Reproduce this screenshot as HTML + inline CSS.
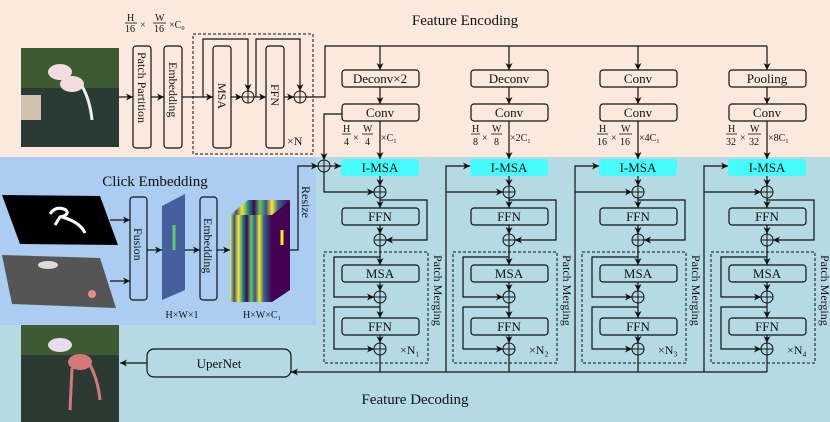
<!DOCTYPE html>
<html><head><meta charset="utf-8"><style>
html,body{margin:0;padding:0;background:#fff}
svg{display:block}
text{font-family:"Liberation Serif",serif;fill:#111}
</style></head><body>
<svg width="830" height="422" viewBox="0 0 830 422" xmlns="http://www.w3.org/2000/svg">
<defs>
<marker id="a" markerWidth="8" markerHeight="8" refX="7" refY="4" orient="auto" markerUnits="userSpaceOnUse">
<path d="M0,0.5 L7,4 L0,7.5 L2,4 Z" fill="#111"/></marker>
<linearGradient id="stk" x1="0" x2="1">
<stop offset="0" stop-color="#dff05a"/><stop offset="0.1" stop-color="#3b528b"/><stop offset="0.2" stop-color="#fde725"/><stop offset="0.3" stop-color="#21918c"/><stop offset="0.4" stop-color="#440154"/><stop offset="0.5" stop-color="#5ec962"/><stop offset="0.6" stop-color="#3b528b"/><stop offset="0.7" stop-color="#fde725"/><stop offset="0.8" stop-color="#31688e"/><stop offset="1" stop-color="#440154"/></linearGradient>
</defs>
<rect x="0" y="0" width="830" height="157" fill="#fbe9de"/>
<rect x="0" y="157" width="830" height="265" fill="#b4dae4"/>
<rect x="0" y="157" width="316" height="168" fill="#aacdf1"/>

<!-- input image -->
<rect x="21" y="48" width="98" height="99" fill="#2a3a35"/>
<rect x="21" y="48" width="98" height="40" fill="#3d5a32"/>
<rect x="21" y="95" width="20" height="25" fill="#cfc3b0"/>
<ellipse cx="60" cy="72" rx="12" ry="8" fill="#f2dcdf"/>
<ellipse cx="72" cy="84" rx="12" ry="8" fill="#f2dcdf"/>
<path d="M82,86 Q90,100 92,120" stroke="#eee" stroke-width="3" fill="none"/>
<text x="465" y="25" font-size="15" text-anchor="middle">Feature Encoding</text>

<!-- top-left fraction -->
<g font-size="10">
<text x="127" y="21">H</text><line x1="125" y1="23" x2="137" y2="23" stroke="#111" stroke-width="0.8"/><text x="125" y="32">16</text>
<text x="140" y="28">×</text>
<text x="155" y="21">W</text><line x1="153" y1="23" x2="166" y2="23" stroke="#111" stroke-width="0.8"/><text x="154" y="32">16</text>
<text x="169" y="28">×C₀</text>
</g>
<g fill="none" stroke="#111" stroke-width="1.2">
<line x1="119" y1="97" x2="133" y2="97" marker-end="url(#a)"/>
<rect x="133" y="46" width="18" height="102" rx="3" fill="#fbe9de"/>
<line x1="151" y1="97" x2="164" y2="97" marker-end="url(#a)"/>
<rect x="164" y="46" width="18" height="102" rx="3" fill="#fbe9de"/>
<line x1="182" y1="97" x2="213" y2="97" marker-end="url(#a)"/>
<rect x="193" y="34" width="120" height="120" stroke-dasharray="3,2" stroke-width="1"/>
<rect x="213" y="46" width="18" height="102" rx="3"/>
<line x1="231" y1="97" x2="242" y2="97" marker-end="url(#a)"/>
<circle cx="248" cy="97" r="6" stroke-width="1"/><path d="M242,97H254M248,91V103" stroke-width="1"/>
<polyline points="203,97 203,39 248,39 248,91" marker-end="url(#a)"/>
<line x1="254" y1="97" x2="266" y2="97" marker-end="url(#a)"/>
<rect x="266" y="46" width="18" height="102" rx="3"/>
<polyline points="256,97 256,39 300,39 300,91" marker-end="url(#a)"/>
<line x1="284" y1="97" x2="294" y2="97" marker-end="url(#a)"/>
<circle cx="300" cy="97" r="6" stroke-width="1"/><path d="M294,97H306M300,91V103" stroke-width="1"/>
<polyline points="306,97 325,97 325,46 767,46"/>
<polyline points="342,114 324,114 324,160" marker-end="url(#a)"/>
<line x1="290" y1="372" x2="767" y2="372"/>
<line x1="297" y1="372" x2="291" y2="372" marker-end="url(#a)"/>
<line x1="147" y1="363" x2="120" y2="363" marker-end="url(#a)"/>
<rect x="147" y="349" width="144" height="28" rx="7"/>
<line x1="110" y1="220" x2="130" y2="220" marker-end="url(#a)"/>
<line x1="110" y1="281" x2="130" y2="281" marker-end="url(#a)"/>
<rect x="130" y="197" width="17" height="103" rx="3"/>
<line x1="147" y1="250" x2="162" y2="250" marker-end="url(#a)"/>
<line x1="185" y1="250" x2="200" y2="250" marker-end="url(#a)"/>
<rect x="200" y="197" width="17" height="103" rx="3"/>
<line x1="217" y1="250" x2="230" y2="250" marker-end="url(#a)"/>
<polyline points="290,250 298,250 298,166 318,166" marker-end="url(#a)"/>
</g>
<text x="219" y="368" font-size="13" text-anchor="middle">UperNet</text>
<text x="415" y="404" font-size="15" text-anchor="middle">Feature Decoding</text>
<text x="155" y="186" font-size="15" text-anchor="middle">Click Embedding</text>
<text x="182" y="318" font-size="10" text-anchor="middle">H×W×1</text>
<text x="262" y="318" font-size="10" text-anchor="middle">H×W×C₁</text>
<g font-size="12">
<text transform="translate(138,52) rotate(90)">Patch Partition</text>
<text transform="translate(169,62) rotate(90)">Embedding</text>
<text transform="translate(218,83) rotate(90)">MSA</text>
<text transform="translate(271,84) rotate(90)">FFN</text>
<text x="287" y="145">×N</text>
<text transform="translate(134,228) rotate(90)">Fusion</text>
<text transform="translate(204,218) rotate(90)">Embedding</text>
<text transform="translate(302,186) rotate(90)">Resize</text>
</g>
<!-- mask & gray images -->
<polygon points="2,195 100,196 118,245 20,244" fill="#000"/>
<path d="M50,214 Q56,205 66,210 Q70,215 60,217 L55,225 M62,217 Q80,222 85,233" stroke="#fff" stroke-width="3" fill="none"/>
<polygon points="2,255 100,258 116,308 12,304" fill="#555"/>
<ellipse cx="48" cy="265" rx="10" ry="4" fill="#ddd"/>
<circle cx="92" cy="294" r="4" fill="#e88"/>
<polygon points="162,206 185,194 185,290 162,300" fill="#445f9c"/>
<path d="M174,225 L174,250" stroke="#6c6" stroke-width="3"/>
<polygon points="230,215 248,200 290,200 272,215" fill="url(#stk)"/>
<rect x="230" y="215" width="42" height="87" fill="url(#stk)"/>
<polygon points="272,215 290,200 290,290 272,302" fill="#440154"/>
<path d="M282,230 L282,245" stroke="#fde725" stroke-width="3"/>
<!-- output image -->
<rect x="21" y="325" width="98" height="97" fill="#2b3a33"/>
<rect x="21" y="325" width="98" height="30" fill="#3d5a32"/>
<ellipse cx="60" cy="345" rx="12" ry="7" fill="#e8dde8"/>
<ellipse cx="80" cy="362" rx="12" ry="8" fill="#d57878"/>
<path d="M90,365 Q98,380 100,400 M72,368 L70,410" stroke="#d57878" stroke-width="3" fill="none"/>

<!-- columns -->
<g id="c1" transform="translate(380,0)">
<g fill="none" stroke="#111" stroke-width="1.2">
<line x1="0" y1="46" x2="0" y2="70" marker-end="url(#a)"/>
<rect x="-38" y="70" width="77" height="17" rx="3"/>
<line x1="0" y1="87" x2="0" y2="104" marker-end="url(#a)"/>
<rect x="-38" y="104" width="77" height="17" rx="3"/>
<line x1="0" y1="121" x2="0" y2="159" marker-end="url(#a)"/>
<rect x="-39" y="159" width="78" height="17" rx="3" fill="#45fbfb" stroke="none"/>
<line x1="0" y1="176" x2="0" y2="186" marker-end="url(#a)"/>
<circle cx="0" cy="192" r="6" stroke-width="1"/><path d="M-6,192H6M0,186V198" stroke-width="1"/>
<line x1="0" y1="198" x2="0" y2="208" marker-end="url(#a)"/>
<polyline points="0,200 47,200 47,240 6,240" marker-end="url(#a)"/>
<rect x="-38" y="208" width="77" height="17" rx="3"/>
<line x1="0" y1="225" x2="0" y2="234" marker-end="url(#a)"/>
<circle cx="0" cy="240" r="6" stroke-width="1"/><path d="M-6,240H6M0,234V246" stroke-width="1"/>
<rect x="-56" y="252" width="104" height="111" stroke-dasharray="3,2" stroke-width="1"/>
<line x1="0" y1="246" x2="0" y2="265" marker-end="url(#a)"/>
<polyline points="0,257 -46,257 -46,297 -6,297" marker-end="url(#a)"/>
<rect x="-38" y="265" width="77" height="17" rx="3"/>
<line x1="0" y1="282" x2="0" y2="291" marker-end="url(#a)"/>
<circle cx="0" cy="297" r="6" stroke-width="1"/><path d="M-6,297H6M0,291V303" stroke-width="1"/>
<line x1="0" y1="303" x2="0" y2="318" marker-end="url(#a)"/>
<polyline points="0,307 -46,307 -46,349 -6,349" marker-end="url(#a)"/>
<rect x="-38" y="318" width="77" height="17" rx="3"/>
<line x1="0" y1="335" x2="0" y2="343" marker-end="url(#a)"/>
<circle cx="0" cy="349" r="6" stroke-width="1"/><path d="M-6,349H6M0,343V355" stroke-width="1"/>
<line x1="0" y1="355" x2="0" y2="372"/>
</g>
<g font-size="13" text-anchor="middle">
<text x="0" y="172">I-MSA</text><text x="0" y="221">FFN</text><text x="0" y="278">MSA</text><text x="0" y="331">FFN</text>
</g>
<text transform="translate(54,255) rotate(90)" font-size="12">Patch Merging</text>
</g>
<g transform="translate(380,0)"><text x="0" y="83" font-size="13" text-anchor="middle">Deconv×2</text><text x="0" y="117" font-size="13" text-anchor="middle">Conv</text><text x="20" y="354" font-size="12">×N₁</text>
<g font-size="10"><text x="-37" y="132">H</text><line x1="-38" y1="134" x2="-29" y2="134" stroke="#111" stroke-width="0.8"/><text x="-36" y="145">4</text><text x="-27" y="141">×</text><text x="-17" y="132">W</text><line x1="-18" y1="134" x2="-7" y2="134" stroke="#111" stroke-width="0.8"/><text x="-15" y="145">4</text><text x="1" y="141">×C₁</text></g></g>
<use href="#c1" x="129"/>
<g transform="translate(509,0)"><text x="0" y="83" font-size="13" text-anchor="middle">Deconv</text><text x="0" y="117" font-size="13" text-anchor="middle">Conv</text><text x="20" y="354" font-size="12">×N₂</text>
<g font-size="10"><text x="-37" y="132">H</text><line x1="-38" y1="134" x2="-29" y2="134" stroke="#111" stroke-width="0.8"/><text x="-36" y="145">8</text><text x="-27" y="141">×</text><text x="-17" y="132">W</text><line x1="-18" y1="134" x2="-7" y2="134" stroke="#111" stroke-width="0.8"/><text x="-15" y="145">8</text><text x="1" y="141">×2C₁</text></g></g>
<use href="#c1" x="258"/>
<g transform="translate(638,0)"><text x="0" y="83" font-size="13" text-anchor="middle">Conv</text><text x="0" y="117" font-size="13" text-anchor="middle">Conv</text><text x="20" y="354" font-size="12">×N₃</text>
<g font-size="10"><text x="-39" y="132">H</text><line x1="-41" y1="134" x2="-30" y2="134" stroke="#111" stroke-width="0.8"/><text x="-41" y="145">16</text><text x="-27" y="141">×</text><text x="-17" y="132">W</text><line x1="-19" y1="134" x2="-6" y2="134" stroke="#111" stroke-width="0.8"/><text x="-18" y="145">16</text><text x="1" y="141">×4C₁</text></g></g>
<use href="#c1" x="387"/>
<g transform="translate(767,0)"><text x="0" y="83" font-size="13" text-anchor="middle">Pooling</text><text x="0" y="117" font-size="13" text-anchor="middle">Conv</text><text x="20" y="354" font-size="12">×N₄</text>
<g font-size="10"><text x="-39" y="132">H</text><line x1="-41" y1="134" x2="-30" y2="134" stroke="#111" stroke-width="0.8"/><text x="-41" y="145">32</text><text x="-27" y="141">×</text><text x="-17" y="132">W</text><line x1="-19" y1="134" x2="-6" y2="134" stroke="#111" stroke-width="0.8"/><text x="-18" y="145">32</text><text x="1" y="141">×8C₁</text></g></g>

<!-- column inputs -->
<g fill="none" stroke="#111" stroke-width="1.2">
<circle cx="324" cy="166" r="6" stroke-width="1"/><path d="M318,166H330M324,160V172" stroke-width="1"/>
<line x1="330" y1="166" x2="341" y2="166" marker-end="url(#a)"/>
<polyline points="324,172 324,192 374,192" marker-end="url(#a)"/>
<polyline points="446,372 446,166 470,166" marker-end="url(#a)"/>
<polyline points="446,192 503,192" marker-end="url(#a)"/>
<polyline points="575,372 575,166 599,166" marker-end="url(#a)"/>
<polyline points="575,192 632,192" marker-end="url(#a)"/>
<polyline points="704,372 704,166 728,166" marker-end="url(#a)"/>
<polyline points="704,192 761,192" marker-end="url(#a)"/>
</g>
</svg>
</body></html>
